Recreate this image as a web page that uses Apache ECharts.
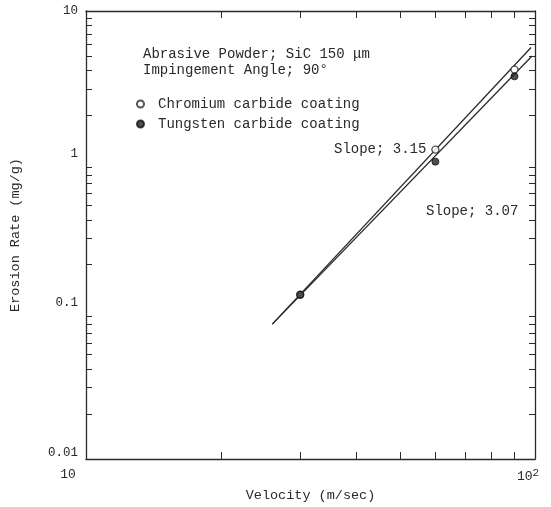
<!DOCTYPE html>
<html>
<head>
<meta charset="utf-8">
<script src="https://cdn.jsdelivr.net/npm/echarts@6/dist/echarts.min.js"></script>
<style>
  html, body { margin: 0; padding: 0; background: #fff; }
  #chart { width: 551px; height: 507px; }
</style>
</head>
<body>
<div id="chart"></div>
<script>
// axis ticks (log scales)
const velocityTicks = [20, 30, 40, 50, 60, 70, 80, 90];
const rateTicks = [0.02, 0.03, 0.04, 0.05, 0.06, 0.07, 0.08, 0.09,
  0.2, 0.3, 0.4, 0.5, 0.6, 0.7, 0.8, 0.9,
  2, 3, 4, 5, 6, 7, 8, 9];
const velocityLabels = [10, 100];
const rateLabels = [0.01, 0.1, 1, 10];

// measured points
const chromiumPoints = [[30, 0.126], [60, 1.18], [90, 4.05]];
const tungstenPoints = [[30, 0.126], [60, 0.98], [90, 3.65]];

// fitted lines (end points)
const chromiumFit = [[26, 0.08], [98, 5.7]];
const tungstenFit = [[26, 0.08], [98.5, 5.0]];

const FONT = '"Liberation Mono", "DejaVu Sans Mono", monospace';
const INK = '#2a2a2a';

const chart = echarts.init(document.getElementById('chart'));

const axisLine = { show: true, lineStyle: { color: INK, width: 1.3 } };
const tickStyle = { color: INK, width: 1 };

const option = {
  animation: false,
  backgroundColor: '#fff',
  grid: { left: 85, right: 16, top: 11, bottom: 48, containLabel: false },
  legend: {
    orient: 'vertical',
    left: 131,
    top: 92,
    itemGap: 6,
    itemWidth: 7,
    itemHeight: 7,
    icon: 'circle',
    data: ['Chromium carbide coating', 'Tungsten carbide coating'],
    textStyle: { fontFamily: FONT, fontSize: 14, color: INK, padding: [0, 0, 0, 9] }
  },
  xAxis: [
    {
      type: 'log', logBase: 10, min: 10, max: 100,
      name: 'Velocity (m/sec)',
      nameLocation: 'middle',
      nameGap: 29,
      nameTextStyle: { fontFamily: FONT, fontSize: 13.5, color: INK },
      axisLine: axisLine,
      splitLine: { show: false },
      axisTick: { inside: true, length: 7, lineStyle: tickStyle, customValues: velocityTicks },
      axisLabel: {
        customValues: velocityLabels,
        margin: 9,
        fontFamily: FONT, fontSize: 13, color: INK,
        formatter: v => (v === 10 ? '{a|10}' : '{b|10}{s|2}'),
        rich: {
          a: { fontFamily: FONT, fontSize: 13, color: INK, padding: [0, 36, 0, 0] },
          b: { fontFamily: FONT, fontSize: 13, color: INK },
          s: { fontFamily: FONT, fontSize: 11, color: INK, verticalAlign: 'top', padding: [0, 14, 6, 0] }
        }
      }
    },
    {
      type: 'log', logBase: 10, min: 10, max: 100, position: 'top',
      axisLine: axisLine,
      splitLine: { show: false },
      axisTick: { inside: true, length: 7, lineStyle: tickStyle, customValues: velocityTicks },
      axisLabel: { show: false }
    }
  ],
  yAxis: [
    {
      type: 'log', logBase: 10, min: 0.01, max: 10,
      name: 'Erosion Rate (mg/g)',
      nameLocation: 'middle',
      nameGap: 64,
      nameTextStyle: { fontFamily: FONT, fontSize: 13.5, color: INK },
      axisLine: axisLine,
      splitLine: { show: false },
      axisTick: { inside: true, length: 6, lineStyle: tickStyle, customValues: rateTicks },
      axisLabel: {
        customValues: rateLabels,
        margin: 8,
        verticalAlign: 'middle',
        fontFamily: FONT, fontSize: 12.5, color: INK,
        // top label sits level with the corner, the others a little above their tick
        formatter: v => (v === 10 ? '{t|10}' : '{u|' + v + '}'),
        rich: {
          t: { fontFamily: FONT, fontSize: 12.5, color: INK },
          u: { fontFamily: FONT, fontSize: 12.5, color: INK, padding: [0, 0, 13, 0] }
        }
      }
    },
    {
      type: 'log', logBase: 10, min: 0.01, max: 10, position: 'right',
      axisLine: axisLine,
      splitLine: { show: false },
      axisTick: { inside: true, length: 6, lineStyle: tickStyle, customValues: rateTicks },
      axisLabel: { show: false }
    }
  ],
  series: [
    {
      name: 'Chromium fit',
      type: 'line',
      data: chromiumFit,
      symbol: 'none',
      lineStyle: { color: INK, width: 1.3 },
      z: 2
    },
    {
      name: 'Tungsten fit',
      type: 'line',
      data: tungstenFit,
      symbol: 'none',
      lineStyle: { color: INK, width: 1.3 },
      z: 2
    },
    {
      name: 'Chromium carbide coating',
      type: 'scatter',
      data: chromiumPoints,
      symbol: 'circle',
      symbolSize: 7,
      itemStyle: { color: '#fff', borderColor: INK, borderWidth: 1.4 },
      z: 4
    },
    {
      name: 'Tungsten carbide coating',
      type: 'scatter',
      data: tungstenPoints,
      symbol: 'circle',
      symbolSize: 7,
      itemStyle: { color: '#222', borderColor: '#111', borderWidth: 1 },
      z: 5
    }
  ],
  graphic: [
    {
      type: 'text', left: 143, top: 47,
      style: { text: 'Abrasive Powder; SiC 150 μm', font: '14px ' + FONT, fill: INK }
    },
    {
      type: 'text', left: 143, top: 63,
      style: { text: 'Impingement Angle; 90°', font: '14px ' + FONT, fill: INK }
    },
    {
      type: 'text', left: 334, top: 142,
      style: { text: 'Slope; 3.15', font: '14px ' + FONT, fill: INK }
    },
    {
      type: 'text', left: 426, top: 204,
      style: { text: 'Slope; 3.07', font: '14px ' + FONT, fill: INK }
    }
  ]
};

chart.setOption(option);
</script>
</body>
</html>
